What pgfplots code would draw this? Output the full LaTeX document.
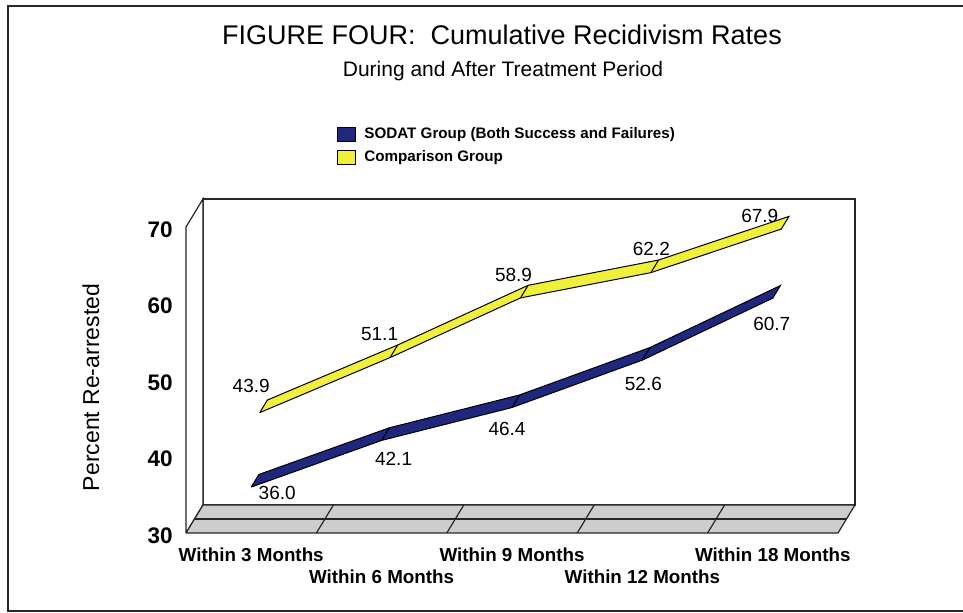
\documentclass[border=0pt]{standalone}
\usepackage{pgfplots}
\pgfplotsset{compat=1.18}
\usepackage{fontspec}
\setmainfont{Liberation Sans}
\definecolor{sodat}{RGB}{31,40,125}
\definecolor{comp}{RGB}{240,240,60}
\definecolor{floorg}{RGB}{205,205,205}

\begin{document}
\begin{tikzpicture}
\path[use as bounding box] (-93pt,-40pt) rectangle (388.5pt,266.5pt);
\begin{axis}[
  at={(0pt,0pt)}, anchor=south west,
  x={(65.2pt,0pt)}, y={(8.5pt,14pt)}, z={(0pt,3.825pt)},
  xmin=-0.5, xmax=4.5, ymin=0, ymax=1, zmin=30, zmax=70,
  axis lines*=left, axis line style={draw=none},
  major tick length=0pt,
  clip=false,
  xtick={0,2,4}, xticklabels={Within 3 Months,Within 9 Months,Within 18 Months},
  extra x ticks={1,3}, extra x tick labels={Within 6 Months,Within 12 Months},
  extra x tick style={xticklabel style={yshift=-11pt}},
  xticklabel style={anchor=north, inner sep=0pt, yshift=-7pt, font=\fontsize{9.4}{11}\selectfont\bfseries},
  ytick=\empty,
  ztick={30,40,50,60,70},
  zticklabel style={anchor=east, inner sep=0pt, xshift=-6.5pt, yshift=-1.25pt, font=\fontsize{11.25}{13}\selectfont\bfseries},
  /pgf/number format/assume math mode=true,
  legend style={at={(axis cs:0.658,0,83.1)}, anchor=north west, draw=none, fill=none, inner sep=0pt,
    font=\fontsize{7.6}{9}\selectfont\bfseries, row sep=4pt, column sep=4pt, nodes={inner sep=0pt}},
  legend cell align=left,
  legend image code/.code={\draw[#1, draw=black, line width=0.5pt] (0pt,-3.5pt) rectangle (9pt,3.5pt);},
]
% back wall
\addplot3[fill=white, draw=black!85, line width=0.6pt, forget plot] coordinates {(-0.5,1,30) (4.5,1,30) (4.5,1,70) (-0.5,1,70) (-0.5,1,30)};
% left wall
\addplot3[fill=white, draw=black!85, line width=0.6pt, forget plot] coordinates {(-0.5,0,30) (-0.5,1,30) (-0.5,1,70) (-0.5,0,70) (-0.5,0,30)};
% floor
\addplot3[fill=floorg, draw=black!85, line width=0.6pt, forget plot] coordinates {(-0.5,0,30) (4.5,0,30) (4.5,1,30) (-0.5,1,30) (-0.5,0,30)};
\addplot3[draw=black!85, line width=0.6pt, forget plot] coordinates {(-0.5,0.5,30) (4.5,0.5,30)};
\addplot3[draw=black!85, line width=0.6pt, forget plot] coordinates {(0.5,0,30) (0.5,1,30)};
\addplot3[draw=black!85, line width=0.6pt, forget plot] coordinates {(1.5,0,30) (1.5,1,30)};
\addplot3[draw=black!85, line width=0.6pt, forget plot] coordinates {(2.5,0,30) (2.5,1,30)};
\addplot3[draw=black!85, line width=0.6pt, forget plot] coordinates {(3.5,0,30) (3.5,1,30)};
% SODAT ribbon
\addplot3[fill=sodat, draw=black, line width=0.5pt] coordinates {(0,0,36.0) (1,0,42.1) (2,0,46.4) (3,0,52.6) (4,0,60.7) (4,0.45,60.7) (3,0.45,52.6) (2,0.45,46.4) (1,0.45,42.1) (0,0.45,36.0) (0,0,36.0)};
\addlegendentry{SODAT Group (Both Success and Failures)}
\addplot3[draw=black, line width=0.5pt, forget plot] coordinates {(1,0,42.1) (1,0.45,42.1)};
\addplot3[draw=black, line width=0.5pt, forget plot] coordinates {(2,0,46.4) (2,0.45,46.4)};
\addplot3[draw=black, line width=0.5pt, forget plot] coordinates {(3,0,52.6) (3,0.45,52.6)};
% Comparison ribbon
\addplot3[fill=comp, draw=black, line width=0.5pt] coordinates {(0,0.5,43.9) (1,0.5,51.1) (2,0.5,58.9) (3,0.5,62.2) (4,0.5,67.9) (4,0.95,67.9) (3,0.95,62.2) (2,0.95,58.9) (1,0.95,51.1) (0,0.95,43.9) (0,0.5,43.9)};
\addlegendentry{Comparison Group}
\addplot3[draw=black, line width=0.5pt, forget plot] coordinates {(1,0.5,51.1) (1,0.95,51.1)};
\addplot3[draw=black, line width=0.5pt, forget plot] coordinates {(2,0.5,58.9) (2,0.95,58.9)};
\addplot3[draw=black, line width=0.5pt, forget plot] coordinates {(3,0.5,62.2) (3,0.95,62.2)};
% data labels
\begin{scope}[every node/.style={font=\fontsize{9.5}{11}\selectfont, inner sep=0pt, anchor=center}]
\node[xshift=13pt, yshift=-3pt] at (axis cs:0,0,36.0) {36.0};
\node[xshift=6pt, yshift=-9pt] at (axis cs:1,0,42.1) {42.1};
\node[xshift=-2.5pt, yshift=-10.5pt] at (axis cs:2,0,46.4) {46.4};
\node[xshift=0.5pt, yshift=-12pt] at (axis cs:3,0,52.6) {52.6};
\node[xshift=-0.5pt, yshift=-13pt] at (axis cs:4,0,60.7) {60.7};
\node[xshift=0pt, yshift=20.5pt] at (axis cs:0,0,43.9) {43.9};
\node[xshift=-1pt, yshift=19pt] at (axis cs:1,0,51.1) {51.1};
\node[xshift=0.75pt, yshift=18.5pt] at (axis cs:2,0,58.9) {58.9};
\node[xshift=4.5pt, yshift=19pt] at (axis cs:3,0,62.2) {62.2};
\node[xshift=-6.5pt, yshift=13.3pt] at (axis cs:4,0,67.9) {67.9};
\end{scope}
\end{axis}
\draw[line width=1pt, black!85] (400pt,263.5pt) -- (-89pt,263.5pt) -- (-89pt,-39pt) -- (400pt,-39pt);
\node[anchor=base, font=\fontsize{13.5}{16}\selectfont] at (158pt,244.25pt) {FIGURE FOUR:\ \ Cumulative Recidivism Rates};
\node[anchor=base, font=\fontsize{10.5}{13}\selectfont] at (158.5pt,228pt) {During and After Treatment Period};
\node[rotate=90, font=\fontsize{11.5}{14}\selectfont] at (-47.5pt,72.75pt) {Percent Re-arrested};
\end{tikzpicture}
\end{document}
